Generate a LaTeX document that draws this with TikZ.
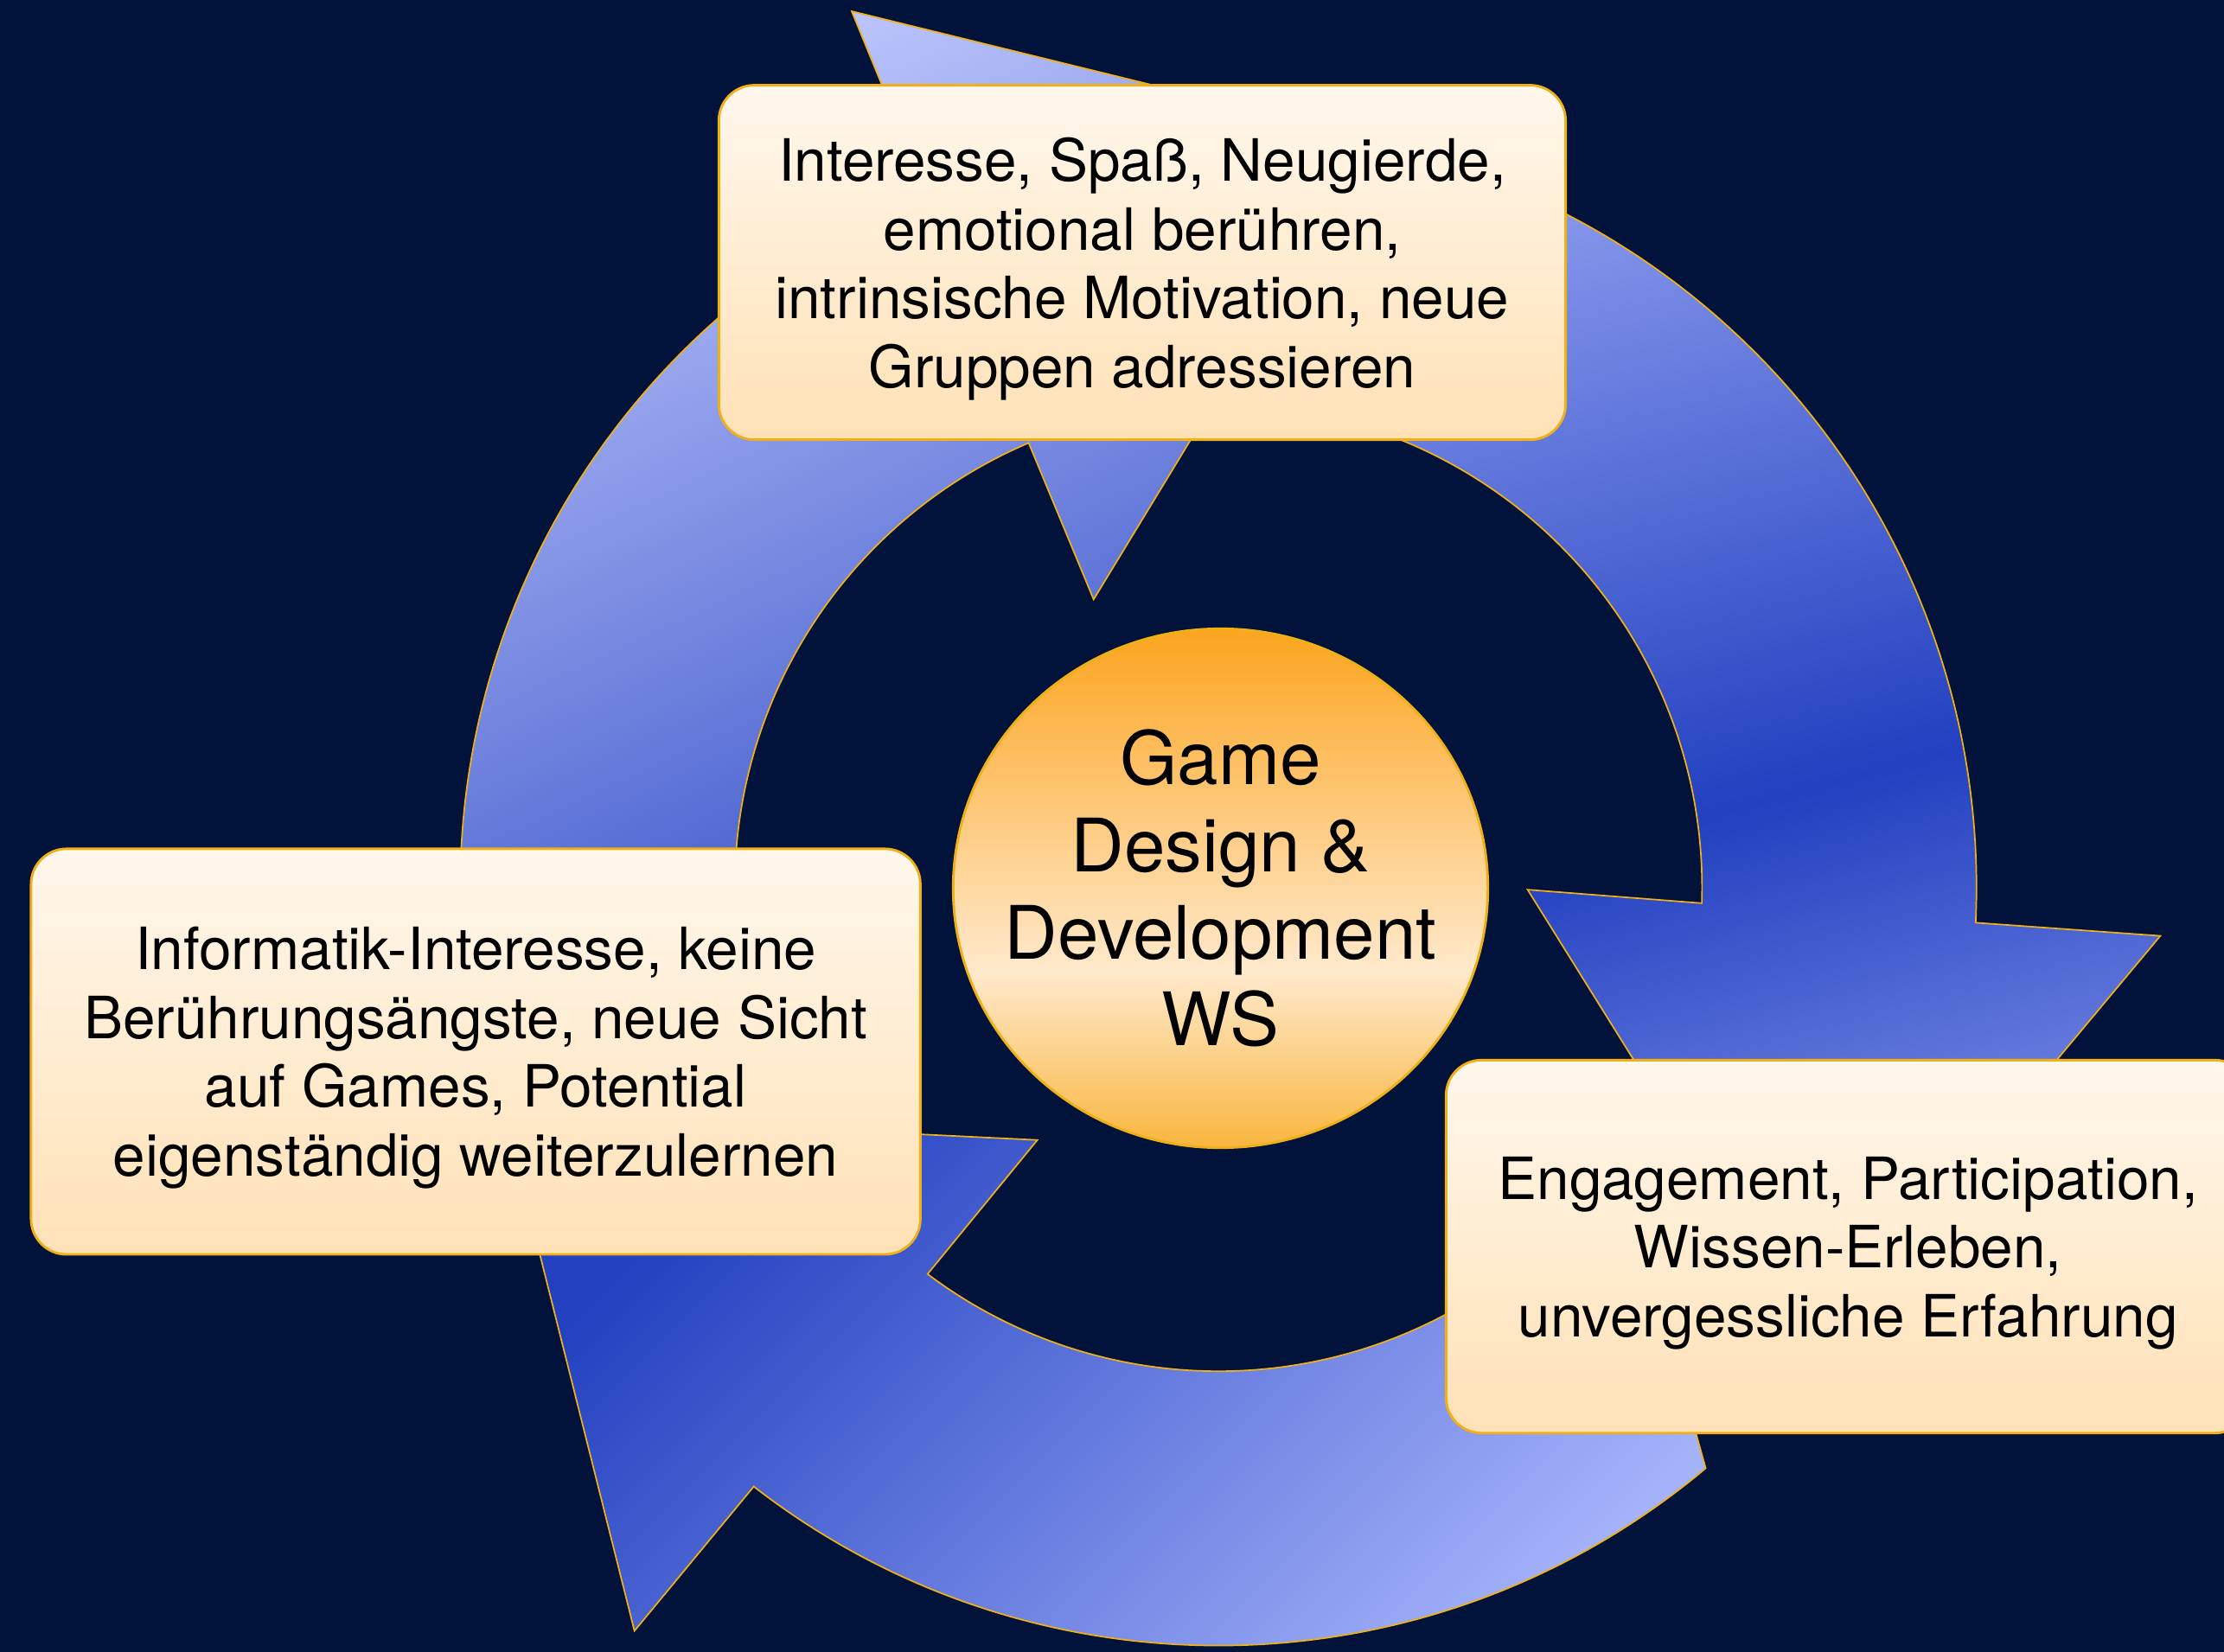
\documentclass[tikz,border=0pt]{standalone}
\usepackage{fontspec}
\setmainfont{TeX Gyre Heros}
\usetikzlibrary{shapes.geometric}
\definecolor{navy}{RGB}{1,19,58}
\definecolor{rim}{RGB}{240,176,24}
\definecolor{boxtop}{RGB}{255,247,236}
\definecolor{boxbottom}{RGB}{255,225,182}
\definecolor{hubtop}{RGB}{251,164,30}
\definecolor{hublight}{RGB}{255,233,204}
\definecolor{hubbottom}{RGB}{249,182,62}
\definecolor{bluedeep}{RGB}{34,64,192}
\definecolor{bluepale}{RGB}{190,198,252}
\definecolor{bluesoft}{RGB}{136,152,236}
\definecolor{bluelight}{RGB}{164,178,250}
\pgfdeclareverticalshading{hubshade}{100bp}{color(0bp)=(hubbottom); color(25bp)=(hubbottom); color(42bp)=(hublight); color(75bp)=(hubtop); color(100bp)=(hubtop)}
\pgfdeclareverticalshading{swingshade}{100bp}{color(0bp)=(bluesoft); color(25bp)=(bluesoft); color(47bp)=(bluedeep); color(75bp)=(bluesoft); color(100bp)=(bluesoft)}
\begin{document}
\begin{tikzpicture}[x=1cm,y=1cm,
    ring/.style={draw=rim,line width=0.3pt,line join=miter},
    note/.style={draw=rim,line width=0.5pt,rounded corners=0.25cm,top color=boxtop,bottom color=boxbottom,
      align=center,inner sep=0pt,text depth=0pt,font=\fontsize{11.7}{13.8}\selectfont},
    hub/.style={ellipse,draw=rim,line width=0.5pt,shade,shading=hubshade,minimum width=3.77cm,minimum height=3.66cm,inner sep=0pt}]
      \fill[navy] (0,0) rectangle (15.68,11.65);
      \clip (0,0) rectangle (15.68,11.65);
      \begin{scope}[shift={(8.59,5.39)}]
      \draw[ring,top color=bluepale,bottom color=bluedeep,shading angle=25] (190.5:5.345) arc[start angle=190.5,end angle=112.8,radius=5.345] -- (112.7:6.70) -- (78.3:5.39) -- (113.4:2.215) -- (113.1:3.41) arc[start angle=113.1,end angle=206.5,radius=3.41] -- cycle;
      \draw[ring,shade,shading=swingshade,shading angle=15] (75.5:5.345) arc[start angle=75.5,end angle=-2.65,radius=5.345] -- (-2.93:6.65) -- (-37.8:5.32) -- (-0.37:2.18) -- (-1.84:3.41) arc[start angle=-1.84,end angle=91.5,radius=3.41] -- cycle;
      \draw[ring,top color=bluedeep,bottom color=bluelight,shading angle=45] (-50:5.345) arc[start angle=-50,end angle=-127.8,radius=5.345] -- (-128.15:6.665) -- (-162.4:5.28) -- (-125.65:2.19) -- (-126.96:3.41) arc[start angle=-126.96,end angle=-34,radius=3.41] -- cycle;
      \end{scope}
      \node[hub] (hub) at (8.605,5.386) {};
      \node[font=\fontsize{14.8}{17.5}\selectfont,align=center] (hubtext) at (hub) {Game\\Design \&\\Development\\WS};
      \node[note,minimum width=5.97cm,minimum height=2.50cm] (fun) at (8.053,9.799) {Interesse, Spaß, Neugierde,\\emotional berühren,\\intrinsische Motivation, neue\\Gruppen adressieren};
      \node[note,minimum width=6.27cm,minimum height=2.86cm] (skills) at (3.354,4.234) {Informatik-Interesse, keine\\Berührungsängste, neue Sicht\\auf Games, Potential\\eigenständig weiterzulernen};
      \node[note,minimum width=5.67cm,minimum height=2.63cm] (flow) at (13.03,2.859) {Engagement, Participation,\\Wissen-Erleben,\\unvergessliche Erfahrung};
\end{tikzpicture}
\end{document}
